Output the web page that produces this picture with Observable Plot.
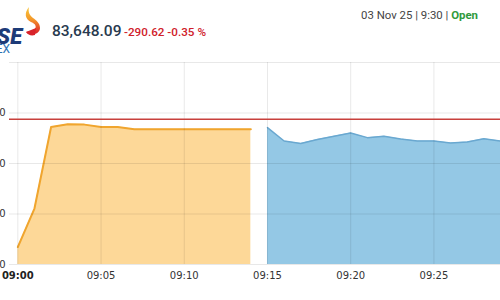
<!DOCTYPE html>
<html>
<head>
<meta charset="utf-8">
<script src="https://cdn.jsdelivr.net/npm/d3@7"></script>
<script src="https://cdn.jsdelivr.net/npm/@observablehq/plot@0.6"></script>
<style>
  html, body { margin: 0; padding: 0; background: #fff; width: 500px; height: 300px; overflow: hidden; }
  #wrap { position: relative; width: 500px; height: 300px; }
  #chart { position: absolute; left: 0; top: 0; }
  .hdr { position: absolute; font-family: Roboto, "Noto Sans", sans-serif; white-space: nowrap; line-height: 1; }
</style>
</head>
<body>
<div id="wrap">
  <div id="chart"></div>
  <div class="hdr" style="left:-17px; top:29px; font-size:22px; line-height:0.7; font-weight:900; font-style:italic; color:#1d3b78;">BSE</div>
  <div class="hdr" style="left:-34px; top:45px; font-size:12px; line-height:0.8; color:#2a72b5;">SENSEX</div>
  <svg class="hdr" style="left:23px; top:6px;" width="18" height="32" viewBox="0 0 18 32">
    <defs>
      <linearGradient id="fl" x1="0" y1="0" x2="0" y2="1">
        <stop offset="0" stop-color="#f8c63c"/>
        <stop offset="0.45" stop-color="#f39a2a"/>
        <stop offset="0.8" stop-color="#e5462a"/>
        <stop offset="1" stop-color="#d8232b"/>
      </linearGradient>
    </defs>
    <path d="M6 1 C1 7, 2 13, 8 16 C13 18, 14 21, 11 24 L3 26 C9 30, 17 28, 17 22 C17 17, 13 14, 10 12 C6 9, 5 5, 6 1 Z" fill="url(#fl)"/>
    <path d="M3 26 L13 22 L12 29 C8 30, 5 29, 3 26 Z" fill="#d8232b"/>
  </svg>
  <div class="hdr" id="price" style="left:52px; top:24px; font-size:15.5px; font-weight:500; color:#283a4f;"></div>
  <div class="hdr" id="chg" style="left:124px; top:27px; font-size:11.7px; font-weight:500; color:#d0202a;"></div>
  <div class="hdr" id="stamp" style="right:22px; top:10px; font-size:11.4px; color:#444;"></div>
</div>
<script>
// ---- data ----
const lastPrice = "83,648.09";
const change = "-290.62 -0.35 %";
const stampText = "03 Nov 25 | 9:30 | ";
const statusText = "Open";
const prevClose = 83938.71;

const preTimes  = ["09:00","09:01","09:02","09:03","09:04","09:05","09:06","09:07","09:08","09:09","09:10","09:11","09:12","09:13","09:14"];
const preValues = [82673, 83054, 83861, 83888, 83885, 83861, 83861, 83840, 83840, 83840, 83840, 83840, 83840, 83840, 83840];

const mktTimes  = ["09:15","09:16","09:17","09:18","09:19","09:20","09:21","09:22","09:23","09:24","09:25","09:26","09:27","09:28","09:29"];
const mktValues = [83855, 83723, 83697, 83737, 83769, 83802, 83756, 83769, 83743, 83723, 83723, 83703, 83713, 83745, 83723];

const xTickLabels = ["09:00","09:05","09:10","09:15","09:20","09:25"];
const yTicks = [82500, 83000, 83500, 84000];
const yMin = 82500, yMax = 84500;
const xStart = "08:59:30", xEnd = "09:29:00";

// ---- build ----
const toDate = s => new Date(`2025-11-03T${s.length === 5 ? s + ":00" : s}Z`);
const pre = preTimes.map((t, i) => ({t: toDate(t), v: preValues[i]}));
const mkt = mktTimes.map((t, i) => ({t: toDate(t), v: mktValues[i]}));
const xTicks = xTickLabels.map(toDate);
const fmt = d3.utcFormat("%H:%M");
const yfmt = d3.format(",");

document.getElementById("price").textContent = lastPrice;
document.getElementById("chg").textContent = change;
const st = document.getElementById("stamp");
st.append(document.createTextNode(stampText));
const op = document.createElement("span");
op.textContent = statusText;
op.style.color = "#2f9a3c";
op.style.fontWeight = "700";
st.append(op);

const grid = {stroke: "#000", strokeOpacity: 0.09, strokeWidth: 1};

const chart = Plot.plot({
  width: 500,
  height: 300,
  marginTop: 62,
  marginBottom: 36,
  marginLeft: 9,
  marginRight: 0,
  style: {fontFamily: "'DejaVu Sans', Verdana, sans-serif", fontSize: "10px", color: "#333", background: "transparent"},
  x: {type: "utc", domain: [toDate(xStart), toDate(xEnd)], axis: null},
  y: {domain: [yMin, yMax], axis: null},
  marks: [
    Plot.areaY(pre, {x: "t", y1: yMin, y2: "v", fill: "#fdd898"}),
    Plot.lineY(pre, {x: "t", y: "v", stroke: "#f0a52e", strokeWidth: 2}),
    Plot.areaY(mkt, {x: "t", y1: yMin, y2: "v", fill: "#94c8e5"}),
    Plot.lineY(mkt, {x: "t", y: "v", stroke: "#6aa8d0", strokeWidth: 1.5}),
    Plot.ruleY(yTicks, {...grid}),
    Plot.ruleY([yMax], {...grid}),
    Plot.ruleX(xTicks, {...grid}),
    Plot.ruleY([prevClose], {stroke: "#c8403c", strokeWidth: 1.5}),
    Plot.text(yTicks, {y: d => d, text: d => yfmt(d), frameAnchor: "left", textAnchor: "end", dx: -4, fill: "#333"}),
    Plot.text(xTicks.slice(0, 1), {x: d => d, text: d => fmt(d), frameAnchor: "bottom", dy: 14, fontWeight: "bold", fill: "#222"}),
    Plot.text(xTicks.slice(1), {x: d => d, text: d => fmt(d), frameAnchor: "bottom", dy: 14, fill: "#333"})
  ]
});
document.getElementById("chart").append(chart);
</script>
</body>
</html>
